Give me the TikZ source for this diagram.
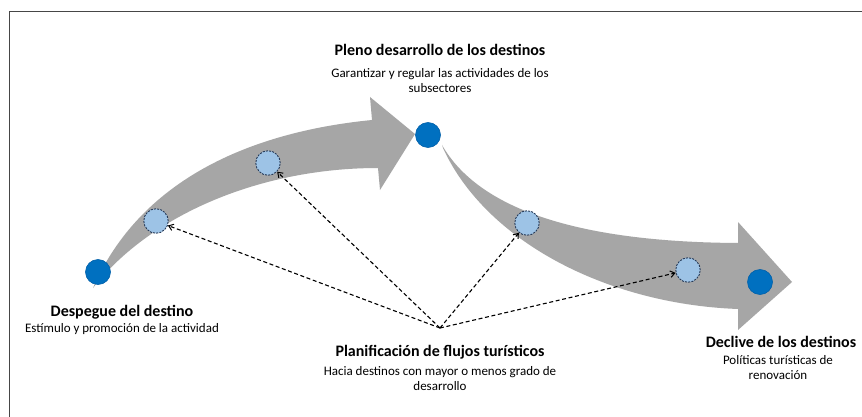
\documentclass[tikz,border=0pt]{standalone}
\usepackage{fontspec}
\setmainfont{Carlito}
\usetikzlibrary{arrows.meta}
\definecolor{bandgray}{RGB}{166,166,166}
\definecolor{darkblue}{RGB}{0,112,192}
\definecolor{darkrim}{RGB}{0,96,170}
\definecolor{lightblue}{RGB}{157,195,230}
\definecolor{ringblue}{RGB}{40,60,90}
\definecolor{framegray}{RGB}{70,70,70}
\begin{document}
\begin{tikzpicture}[x=1pt,y=-1pt,
  bigdot/.style={circle,fill=darkblue,draw=darkrim,line width=0.6pt,minimum size=25pt,inner sep=0pt},
  smalldot/.style={circle,fill=lightblue,draw=ringblue,dash pattern=on 2pt off 1.2pt,line width=0.9pt,minimum size=24.5pt,inner sep=0pt},
  dasharrow/.style={draw=black,line width=1.1pt,dash pattern=on 4pt off 2.6pt,-{Straight Barb[length=4.5pt,width=6.5pt,line width=1pt]}},
  title/.style={font=\fontsize{16}{19}\selectfont\bfseries,inner sep=0pt,align=center},
  sub/.style={font=\fontsize{13}{15.8}\selectfont,inner sep=0pt,align=center}]
\useasboundingbox (0,0) rectangle (862,417);
\fill[white] (0,0) rectangle (862,417);
\draw[framegray,line width=1pt] (9.5,417) -- (9.5,11.5) -- (862,11.5);
% upper band arrow
\fill[bandgray] (93,288) .. controls (140,180) and (250,132) .. (372,120)
  -- (370,97) -- (415,134) -- (380,190) -- (378,168)
  .. controls (260,168) and (150,215) .. (93,288) -- cycle;
% lower band arrow
\fill[bandgray] (442,145) .. controls (478,208) and (575,242) .. (738,243)
  -- (738,222) -- (792,282) -- (738,330) -- (738,309)
  .. controls (605,304) and (485,240) .. (443,148) -- cycle;
% circles
\node[bigdot] (d1) at (98,272) {};
\node[smalldot] (l1) at (156,221) {};
\node[smalldot] (l2) at (268,163) {};
\node[bigdot] (d2) at (428,135) {};
\node[smalldot] (l3) at (527,223) {};
\node[smalldot] (l4) at (688,270) {};
\node[bigdot] (d3) at (760,282) {};
% dashed arrows
\coordinate (P) at (440,328);
\draw[dasharrow] (P) -- (l1);
\draw[dasharrow] (P) -- (l2);
\draw[dasharrow] (P) -- (l3);
\draw[dasharrow] (P) -- (l4);
% labels
\node[title] (t1) at (440,50) {Pleno desarrollo de los destinos};
\node[sub] (s1) at (440,80.5) {Garantizar y regular las actividades de los\\subsectores};
\node[title] (t2) at (122,312) {Despegue del destino};
\node[sub] (s2) at (122,329) {Estímulo y promoción de la actividad};
\node[title] (t3) at (440,352) {Planificación de flujos turísticos};
\node[sub] (s3) at (440,378.5) {Hacia destinos con mayor o menos grado de\\desarrollo};
\node[title] (t4) at (781,342) {Declive de los destinos};
\node[sub] (s4) at (778,367.5) {Políticas turísticas de\\renovación};
\end{tikzpicture}
\end{document}
